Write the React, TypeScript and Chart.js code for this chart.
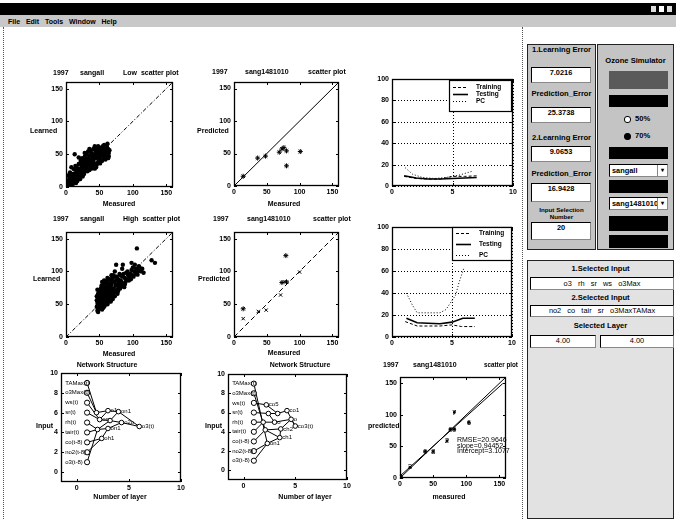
import React, { useEffect, useRef } from 'react';
import { Chart, registerables } from 'chart.js';
Chart.register(...registerables);

const FONT = '"Liberation Sans", Arial, sans-serif';

// ---------- data ----------
const scatterTicks = [0, 50, 100, 150];
const scatterRange: [number, number] = [0, 160];
const identityLine = [0, 160];
const layerTicks = [0, 5, 10];
const errorTicks = [0, 20, 40, 60, 80, 100];
const inputTicks = [0, 2, 4, 6, 8, 10];

const lowScatter: number[][] = [
  [1, 2], [2, 1], [3, 4], [2, 6], [4, 3], [5, 8], [6, 5], [3, 10], [7, 12], [8, 6], [5, 14], [9, 10], [10, 4], [4, 18], [8, 16], [10, 13], [6, 22], [9, 20], [1, 7], [0, 1], [7, 3],
  [11, 8], [12, 14], [13, 18], [14, 11], [15, 22], [16, 16], [17, 25], [18, 12], [19, 20], [12, 27], [14, 32], [16, 30], [18, 28], [20, 24], [19, 35], [13, 50], [19, 45], [11, 20], [15, 6], [17, 9], [20, 15],
  [21, 18], [22, 26], [23, 30], [24, 22], [25, 34], [26, 28], [27, 38], [28, 24], [29, 32], [22, 40], [24, 44], [26, 42], [28, 46], [30, 36], [21, 12], [25, 16], [27, 20], [29, 27], [23, 35], [30, 42], [28, 52],
  [31, 30], [32, 38], [33, 44], [34, 34], [35, 48], [36, 40], [37, 30], [38, 52], [39, 44], [31, 50], [33, 54], [35, 26], [37, 36], [39, 38], [40, 46], [32, 24], [34, 42], [36, 56], [38, 28], [40, 33], [35, 58],
  [41, 40], [42, 50], [43, 36], [44, 55], [45, 44], [46, 60], [47, 48], [48, 38], [49, 56], [50, 42], [41, 58], [43, 62], [45, 30], [47, 54], [49, 46], [42, 44], [44, 48], [46, 52], [48, 62], [50, 50], [46, 34], [43, 28],
  [51, 54], [52, 46], [53, 58], [54, 40], [55, 62], [56, 50], [57, 44], [58, 56], [59, 52], [60, 60], [51, 36], [53, 50], [55, 48], [57, 64], [59, 42], [52, 60], [54, 54], [56, 58], [58, 46], [60, 50], [53, 40],
  [61, 54], [62, 48], [63, 58], [64, 52], [61, 62], [62, 66], [63, 44], [64, 47], [65, 56], [8, 30],
];

const highScatter: number[][] = [
  [46, 46], [47, 52], [48, 44], [49, 58], [50, 48], [46, 62], [47, 40], [48, 66], [49, 54], [50, 70], [48, 50], [46, 56], [49, 42], [50, 60], [47, 72], [48, 38],
  [51, 46], [52, 56], [53, 50], [54, 64], [55, 44], [51, 68], [52, 74], [53, 60], [54, 52], [55, 70], [51, 54], [53, 78], [54, 42], [55, 58], [52, 48], [53, 66], [55, 76], [51, 62], [54, 84],
  [56, 50], [57, 62], [58, 56], [59, 72], [60, 52], [56, 80], [57, 46], [58, 68], [59, 60], [60, 76], [56, 66], [57, 86], [58, 48], [60, 64], [59, 82], [56, 58], [58, 74],
  [61, 56], [62, 70], [63, 60], [64, 78], [65, 54], [61, 84], [62, 50], [63, 74], [64, 66], [65, 82], [61, 64], [63, 88], [64, 58], [65, 70], [62, 90], [61, 76],
  [66, 62], [67, 76], [68, 68], [69, 84], [70, 58], [66, 88], [67, 54], [68, 80], [69, 70], [70, 90], [66, 72], [68, 94], [70, 66], [69, 60], [67, 64],
  [71, 74], [72, 84], [73, 62], [74, 92], [75, 70], [76, 80], [77, 66], [78, 88], [79, 76], [80, 96], [71, 94], [73, 100], [75, 86], [77, 72], [79, 84], [72, 68], [74, 78], [76, 92], [78, 70], [80, 80],
  [81, 74], [82, 86], [83, 78], [84, 92], [85, 82], [86, 96], [87, 76], [88, 90], [89, 84], [90, 98], [82, 94], [85, 110], [88, 80], [91, 88], [93, 94], [94, 86], [92, 100], [95, 92], [84, 104],
  [96, 96], [97, 88], [98, 102], [99, 94], [100, 106], [101, 92], [102, 100], [104, 96], [105, 104], [106, 98], [108, 102], [110, 106], [112, 100], [114, 104], [116, 98], [103, 110], [107, 95], [98, 113], [109, 108],
  [106, 135], [128, 117], [133, 113], [75, 110],
];

const lowTestStars: number[][] = [[14, 15], [36, 43], [48, 46], [69, 52], [73, 57], [76, 59], [80, 54], [80, 31], [101, 53]];
const highTestStars: number[][] = [[14, 43], [73, 83], [80, 84], [79, 124]];
const highTestCrosses: number[][] = [[14, 28], [37, 39], [49, 41], [71, 64], [77, 84], [100, 99]];

// error curves (layers)
const err1TrainX = [1, 2, 3, 4, 5, 6, 7];
const err1Train = [9, 7, 6.5, 6.5, 9, 9, 9.5];
const err1TestX = [1, 2, 3, 4, 5, 6, 7];
const err1Test = [9.5, 7.5, 6.5, 6.5, 7, 7.5, 8];
const err1PcX = [1.1, 1.7, 2.5, 3.5, 4.5, 5.5, 6.7];
const err1Pc = [17, 11, 8, 7, 8, 10, 14];

const err2TrainX = [1.1, 2.1, 3, 4, 5, 5.8, 6.9];
const err2Train = [14, 10, 10, 10, 11, 9.5, 9.5];
const err2TestX = [1.2, 2.1, 3, 4, 5, 5.9, 6.9];
const err2Test = [17, 13, 12.5, 12, 13.5, 17, 17];
const err2PcX = [1.2, 1.7, 2.1, 3, 4, 4.5, 5.3, 5.6, 6];
const err2Pc = [40, 29, 22, 22, 22, 25, 38, 50, 63];

// network structure
const inputNames = ['TAMax(t)', 'o3Max(t)', 'ws(t)', 'sr(t)', 'rh(t)', 'tair(t)', 'co(t-8)', 'no2(t-8)', 'o3(t-8)'];
const inputLevels = [9, 8, 7, 6, 5, 4, 3, 2, 1];
const inputLayer = 1;

const net1NodeX = [1.9, 2.2, 2.0, 2.4, 3.0, 3.2, 3.0, 4.0, 4.3, 6.0];
const net1NodeY = [6.0, 5.3, 4.3, 3.4, 6.2, 5.2, 4.4, 6.1, 5.0, 4.6];
const net1NodeNames = ['', 'on', '', 'oh1', 'o1', '', 'on1', 'on1', 'o2o', 'o3(t)'];
const net1Links = [
  ['i0', 'h0'], ['i1', 'h0'], ['i2', 'h1'], ['i3', 'h1'], ['i4', 'h2'], ['i5', 'h2'], ['i6', 'h3'], ['i7', 'h3'], ['i8', 'h2'],
  ['h0', 'h4'], ['h1', 'h4'], ['h1', 'h5'], ['h2', 'h5'], ['h2', 'h6'], ['h3', 'h6'],
  ['h4', 'h7'], ['h5', 'h7'], ['h5', 'h8'], ['h6', 'h8'], ['h7', 'h9'], ['h8', 'h9'],
];

const net2NodeX = [2.2, 2.4, 1.9, 2.1, 2.3, 3.3, 3.0, 3.6, 3.5, 4.2, 4.6, 5.0];
const net2NodeY = [6.8, 5.9, 5.0, 4.2, 2.8, 5.9, 5.0, 4.3, 3.4, 6.2, 5.3, 4.6];
const net2NodeNames = ['co5', '', '', '', 'on1', '', 'o', 'ch2', 'ch1', 'co1', 'o', 'co3(t)'];
const net2Links = [
  ['i0', 'h4'], ['i1', 'h3'], ['i2', 'h0'], ['i3', 'h1'], ['i4', 'h2'], ['i5', 'h2'], ['i6', 'h3'], ['i7', 'h4'], ['i8', 'h4'],
  ['h0', 'h5'], ['h1', 'h5'], ['h1', 'h6'], ['h2', 'h6'], ['h3', 'h7'], ['h3', 'h8'], ['h4', 'h8'],
  ['h5', 'h9'], ['h6', 'h10'], ['h7', 'h10'], ['h8', 'h7'], ['h9', 'h11'], ['h10', 'h11'],
];

// final test scatter with numbered points
const finalMeasured = [2, 15, 38, 50, 71, 76, 82, 82, 104];
const finalPredicted = [2, 17, 42, 42, 59, 77, 77, 104, 88];
const finalLabels = ['1', '3', '0', '8', '2', '0', '0', '7', '6'];
const fitSlope = 0.94452;
const fitIntercept = 3.1077;
const fitRmse = 20.9646;
const fitRange = [0, 155];

// panel values
const learningError1 = '7.0216';
const predictionError1 = '25.3738';
const learningError2 = '9.0653';
const predictionError2 = '16.9428';
const inputSelectionNumber = '20';
const stationOptions = ['sangall', 'sang1481010'];
const splitOptions = ['50%', '70%'];
const selectedInput1 = 'o3   rh   sr   ws   o3Max';
const selectedInput2 = 'no2   co   tair   sr   o3MaxTAMax';
const selectedLayers = ['4.00', '4.00'];
const menuItems = ['File', 'Edit', 'Tools', 'Window', 'Help'];

// ---------- helpers ----------
const ML = 42, MT = 16, MR = 26, MB = 24;

type TextItem = { t: string; x: number; y: number; align?: CanvasTextAlign; size?: number; bold?: boolean; data?: boolean };
type LegendItem = { label: string; dash: number[]; width: number };
type Spec = {
  box: [number, number, number, number];
  xr: [number, number]; yr: [number, number];
  xt: number[]; yt: number[];
  grid?: boolean;
  datasets: any[];
  texts: TextItem[];
  legend?: { rect: [number, number, number, number]; rows: number[]; items: LegendItem[] };
};

const pts = (arr: number[][]) => arr.map(([x, y]) => ({ x, y }));
const zip = (xs: number[], ys: number[]) => xs.map((x, i) => ({ x, y: ys[i] }));

const dots = (arr: number[][], style: string = 'circle', r = 1.6) => ({
  data: pts(arr), pointStyle: style, pointRadius: r, pointBorderWidth: style === 'circle' ? 0 : 1,
  backgroundColor: '#000', borderColor: '#000', showLine: false,
});
const line = (data: any[], dash: number[], width = 1) => ({
  data, showLine: true, pointRadius: 0, borderColor: '#000', borderWidth: width, borderDash: dash, fill: false, tension: 0,
});

function decor(spec: Spec) {
  const ox = spec.box[0] - ML, oy = spec.box[1] - MT;
  const fnt = (size: number, bold: boolean) => `${bold ? 'bold ' : ''}${size}px ${FONT}`;
  return {
    id: 'decor',
    beforeDatasetsDraw(chart: any) {
      if (!spec.grid) return;
      const { ctx, chartArea: a, scales } = chart;
      ctx.save();
      ctx.strokeStyle = '#000'; ctx.lineWidth = 1; ctx.setLineDash([1, 2]);
      ctx.beginPath();
      spec.xt.forEach(v => { const p = Math.round(scales.x.getPixelForValue(v)) + 0.5; ctx.moveTo(p, a.top); ctx.lineTo(p, a.bottom); });
      spec.yt.forEach(v => { const p = Math.round(scales.y.getPixelForValue(v)) + 0.5; ctx.moveTo(a.left, p); ctx.lineTo(a.right, p); });
      ctx.stroke();
      ctx.restore();
    },
    afterDatasetsDraw(chart: any) {
      const { ctx, chartArea: a, scales } = chart;
      ctx.save();
      ctx.strokeStyle = '#000'; ctx.setLineDash([]); ctx.lineWidth = 1.3;
      ctx.strokeRect(a.left + 0.5, a.top + 0.5, a.right - a.left - 1, a.bottom - a.top - 1);
      ctx.lineWidth = 1;
      ctx.beginPath();
      const TL = 3;
      spec.xt.forEach(v => {
        const p = Math.round(scales.x.getPixelForValue(v)) + 0.5;
        ctx.moveTo(p, a.bottom); ctx.lineTo(p, a.bottom - TL); ctx.moveTo(p, a.top); ctx.lineTo(p, a.top + TL);
      });
      spec.yt.forEach(v => {
        const p = Math.round(scales.y.getPixelForValue(v)) + 0.5;
        ctx.moveTo(a.left, p); ctx.lineTo(a.left + TL, p); ctx.moveTo(a.right, p); ctx.lineTo(a.right - TL, p);
      });
      ctx.stroke();
      if (spec.legend) {
        const [lx0, ly0, lx1, ly1] = spec.legend.rect;
        ctx.fillStyle = '#fff';
        ctx.fillRect(lx0 - ox, ly0 - oy, lx1 - lx0, ly1 - ly0);
        ctx.lineWidth = 1.2;
        ctx.strokeRect(lx0 - ox + 0.5, ly0 - oy + 0.5, lx1 - lx0 - 1, ly1 - ly0 - 1);
        ctx.fillStyle = '#000';
        ctx.font = fnt(6.5, true);
        ctx.textBaseline = 'middle'; ctx.textAlign = 'left';
        spec.legend.items.forEach((it, i) => {
          const yy = spec.legend!.rows[i] - oy + 0.5;
          ctx.beginPath(); ctx.setLineDash(it.dash); ctx.lineWidth = it.width;
          ctx.moveTo(lx0 - ox + 4, yy); ctx.lineTo(lx0 - ox + 19, yy); ctx.stroke();
          ctx.setLineDash([]);
          ctx.fillText(it.label, lx0 - ox + 27, yy);
        });
      }
      ctx.fillStyle = '#000'; ctx.textBaseline = 'middle';
      for (const t of spec.texts) {
        ctx.font = fnt(t.size ?? 7, t.bold ?? true);
        ctx.textAlign = t.align ?? 'left';
        const x = t.data ? scales.x.getPixelForValue(t.x) : t.x - ox;
        const y = t.data ? scales.y.getPixelForValue(t.y) : t.y - oy;
        ctx.fillText(t.t, x, y);
      }
      ctx.restore();
    },
  };
}

function Plot({ spec }: { spec: Spec }) {
  const ref = useRef<HTMLCanvasElement>(null);
  const [x0, y0, x1, y1] = spec.box;
  const W = x1 - x0 + ML + MR, H = y1 - y0 + MT + MB;
  useEffect(() => {
    const tickFont = { family: FONT, size: 7, weight: 'bold' as const };
    const axis = (r: [number, number], ticks: number[], horiz: boolean) => ({
      type: 'linear', min: r[0], max: r[1],
      grid: { display: false, drawTicks: false },
      border: { display: false },
      ticks: { font: tickFont, color: '#000', padding: horiz ? 2 : 3, maxRotation: 0, autoSkip: false },
      afterBuildTicks: (s: any) => { s.ticks = ticks.map(v => ({ value: v })); },
      afterFit: (s: any) => {
        if (horiz) { s.height = MB; s.paddingLeft = 0; s.paddingRight = 0; }
        else { s.width = ML; s.paddingTop = 0; s.paddingBottom = 0; }
      },
    });
    const chart = new Chart(ref.current!, {
      type: 'scatter',
      data: { datasets: spec.datasets },
      options: {
        responsive: false, animation: false, devicePixelRatio: 1, events: [],
        layout: { padding: { left: 0, top: MT, right: MR, bottom: 0 } },
        plugins: { legend: { display: false }, tooltip: { enabled: false }, title: { display: false } },
        scales: { x: axis(spec.xr, spec.xt, true) as any, y: axis(spec.yr, spec.yt, false) as any },
      },
      plugins: [decor(spec)],
    });
    return () => chart.destroy();
  }, []);
  return <canvas ref={ref} width={W} height={H}
    style={{ position: 'absolute', left: x0 - ML, top: y0 - MT, width: W, height: H }} />;
}

function networkDatasets(nodeX: number[], nodeY: number[], links: string[][]) {
  const pos = (k: string) => k[0] === 'i'
    ? { x: inputLayer, y: inputLevels[+k.slice(1)] }
    : { x: nodeX[+k.slice(1)], y: nodeY[+k.slice(1)] };
  const linkData: any[] = [];
  links.forEach(([a, b]) => { linkData.push(pos(a), pos(b), { x: NaN, y: NaN }); });
  return [
    { data: inputLevels.map(y => ({ x: inputLayer, y })), pointStyle: 'circle', pointRadius: 2.6, pointBorderWidth: 1, backgroundColor: '#fff', borderColor: '#000', showLine: false },
    { data: zip(nodeX, nodeY), pointStyle: 'circle', pointRadius: 2.3, pointBorderWidth: 1, backgroundColor: '#fff', borderColor: '#000', showLine: false },
    { ...line(linkData, [], 1), spanGaps: false },
  ];
}
function networkTexts(nodeX: number[], nodeY: number[], names: string[]): TextItem[] {
  return [
    ...inputNames.map((n, i) => ({ t: n, x: -1.1, y: inputLevels[i], data: true, size: 6, bold: false })),
    ...names.map((n, i) => ({ t: n, x: nodeX[i] + 0.25, y: nodeY[i], data: true, size: 6, bold: false })).filter(t => t.t),
  ];
}

const identity = zip(identityLine, identityLine);

const specs: Spec[] = [
  {
    box: [66, 82, 173, 187], xr: scatterRange, yr: scatterRange, xt: scatterTicks, yt: scatterTicks,
    datasets: [dots(lowScatter, 'circle', 2.2), line(identity, [4, 2, 1, 2])],
    texts: [
      { t: '1997', x: 53, y: 73 }, { t: 'sangall', x: 80, y: 73 }, { t: 'Low  scatter plot', x: 123, y: 73 },
      { t: 'Learned', x: 30, y: 131 }, { t: 'Measured', x: 119, y: 204, align: 'center' },
    ],
  },
  {
    box: [234, 82, 339, 186], xr: scatterRange, yr: scatterRange, xt: scatterTicks, yt: scatterTicks,
    datasets: [dots(lowTestStars, 'star', 2.5), line(identity, [])],
    texts: [
      { t: '1997', x: 212, y: 72 }, { t: 'sang1481010', x: 245, y: 72 }, { t: 'scatter plot', x: 308, y: 72 },
      { t: 'Predicted', x: 197, y: 131 }, { t: 'Measured', x: 284, y: 204, align: 'center' },
    ],
  },
  {
    box: [392, 79, 513, 186], xr: [0, 10], yr: [0, 100], xt: layerTicks, yt: errorTicks, grid: true,
    datasets: [
      line(zip(err1TestX, err1Test), [], 1.6),
      line(zip(err1TrainX, err1Train), [3, 2], 1),
      line(zip(err1PcX, err1Pc), [1, 2], 1),
    ],
    texts: [],
    legend: {
      rect: [449, 80, 512, 112], rows: [87, 94, 101],
      items: [{ label: 'Training', dash: [3, 2], width: 1 }, { label: 'Testing', dash: [], width: 1.6 }, { label: 'PC', dash: [1, 2], width: 1 }],
    },
  },
  {
    box: [66, 232, 173, 337], xr: scatterRange, yr: scatterRange, xt: scatterTicks, yt: scatterTicks,
    datasets: [dots(highScatter, 'circle', 2.2), line(identity, [4, 2, 1, 2])],
    texts: [
      { t: '1997', x: 53, y: 219 }, { t: 'sangall', x: 80, y: 219 }, { t: 'High  scatter plot', x: 123, y: 219 },
      { t: 'Learned', x: 33, y: 279 }, { t: 'Measured', x: 119, y: 354, align: 'center' },
    ],
  },
  {
    box: [234, 232, 339, 337], xr: scatterRange, yr: scatterRange, xt: scatterTicks, yt: scatterTicks,
    datasets: [dots(highTestStars, 'star', 2.5), dots(highTestCrosses, 'crossRot', 2.3), line(identity, [5, 3])],
    texts: [
      { t: '1997', x: 213, y: 219 }, { t: 'sang1481010', x: 247, y: 219 }, { t: 'scatter plot', x: 313, y: 219 },
      { t: 'Predicted', x: 198, y: 279 }, { t: 'Measured', x: 284, y: 353, align: 'center' },
    ],
  },
  {
    box: [392, 227, 512, 337], xr: [0, 10], yr: [0, 100], xt: layerTicks, yt: errorTicks, grid: true,
    datasets: [
      line(zip(err2TestX, err2Test), [], 1.6),
      line(zip(err2TrainX, err2Train), [3, 2], 1),
      line(zip(err2PcX, err2Pc), [1, 2], 1),
    ],
    texts: [],
    legend: {
      rect: [452, 227, 512, 261], rows: [233, 244, 255],
      items: [{ label: 'Training', dash: [3, 2], width: 1 }, { label: 'Testing', dash: [], width: 1.6 }, { label: 'PC', dash: [1, 2], width: 1 }],
    },
  },
  {
    box: [61, 373, 181, 482], xr: [-1.5, 10], yr: [-1, 10], xt: layerTicks, yt: inputTicks,
    datasets: networkDatasets(net1NodeX, net1NodeY, net1Links),
    texts: [
      { t: 'Network Structure', x: 107, y: 365, align: 'center' },
      { t: 'Input', x: 36, y: 426 }, { t: 'Number of layer', x: 120, y: 497, align: 'center' },
      ...networkTexts(net1NodeX, net1NodeY, net1NodeNames),
    ],
  },
  {
    box: [228, 374, 347, 480], xr: [-1.5, 10], yr: [-1, 10], xt: layerTicks, yt: inputTicks,
    datasets: networkDatasets(net2NodeX, net2NodeY, net2Links),
    texts: [
      { t: 'Network Structure', x: 300, y: 365, align: 'center' },
      { t: 'Input', x: 205, y: 426 }, { t: 'Number of layer', x: 305, y: 497, align: 'center' },
      ...networkTexts(net2NodeX, net2NodeY, net2NodeNames),
    ],
  },
  {
    box: [400, 377, 506, 478], xr: scatterRange, yr: scatterRange, xt: scatterTicks, yt: scatterTicks,
    datasets: [
      { ...dots(finalMeasured.map((m, i) => [m, finalPredicted[i]]), 'rect', 1.2) },
      line(identity, [], 1),
      line(fitRange.map(x => ({ x, y: fitSlope * x + fitIntercept })), [], 1),
    ],
    texts: [
      { t: '1997', x: 383, y: 365 }, { t: 'sang1481010', x: 413, y: 365 }, { t: 'scatter plot', x: 484, y: 365, size: 6.3 },
      { t: 'predicted', x: 368, y: 426 }, { t: 'measured', x: 449, y: 497, align: 'center' },
      ...finalLabels.map((l, i) => ({ t: l, x: finalMeasured[i], y: finalPredicted[i], data: true, align: 'center' as CanvasTextAlign, size: 8, bold: false })),
      { t: `RMSE=${fitRmse}`, x: 86, y: 60, data: true, size: 7, bold: false },
      { t: `slope=${fitSlope}`, x: 86, y: 51, data: true, size: 7, bold: false },
      { t: `Intercept=${fitIntercept}`, x: 86, y: 42, data: true, size: 7, bold: false },
    ],
  },
];

// ---------- UI panel ----------
const abs = (l: number, t: number, w: number, h: number, extra: React.CSSProperties = {}): React.CSSProperties =>
  ({ position: 'absolute', left: l, top: t, width: w, height: h, boxSizing: 'border-box', ...extra });
const label: React.CSSProperties = { fontSize: 7.6, fontWeight: 'bold', textAlign: 'center', lineHeight: '9px', color: '#000', whiteSpace: 'nowrap' };
const edit: React.CSSProperties = {
  background: '#fff', borderTop: '1px solid #000', borderLeft: '1px solid #000', borderRight: '1px solid #888', borderBottom: '1px solid #888',
  fontSize: 7.4, fontWeight: 'bold', textAlign: 'center', lineHeight: '10px', color: '#000', whiteSpace: 'pre', overflow: 'hidden',
};

function Panels() {
  return (
    <>
      {/* left error panel */}
      <div style={abs(527, 44, 69, 206, { background: '#c4c4c4', border: '1px solid #222' })} />
      <div style={abs(527, 45, 69, 9, label)}>1.Learning Error</div>
      <div style={abs(531, 67, 60, 16, edit)}>{learningError1}</div>
      <div style={abs(527, 89, 69, 9, label)}>Prediction_Error</div>
      <div style={abs(531, 107, 60, 16, edit)}>{predictionError1}</div>
      <div style={abs(527, 133, 69, 9, label)}>2.Learning Error</div>
      <div style={abs(531, 146, 60, 16, edit)}>{learningError2}</div>
      <div style={abs(527, 169, 69, 9, label)}>Prediction_Error</div>
      <div style={abs(531, 183, 60, 19, edit)}>{predictionError2}</div>
      <div style={abs(527, 206, 69, 16, { ...label, fontSize: 6.2, lineHeight: '7px' })}>Input Selection<br />Number</div>
      <div style={abs(531, 222, 60, 18, edit)}>{inputSelectionNumber}</div>

      {/* ozone simulator panel */}
      <div style={abs(597, 44, 77, 206, { background: '#c4c4c4', border: '1px solid #222' })} />
      <div style={abs(597, 56, 77, 9, label)}>Ozone Simulator</div>
      <div style={abs(609, 71, 59, 18, { background: '#5a5a5a' })} />
      <div style={abs(609, 95, 59, 12, { background: '#000' })} />
      {splitOptions.map((o, i) => (
        <div key={o} style={abs(624, 114 + i * 17, 40, 9, { ...label, textAlign: 'left' })}>
          <span style={{ display: 'inline-block', width: 5, height: 5, borderRadius: 3, border: '1px solid #000', background: i === 1 ? '#000' : '#fff', marginRight: 4, verticalAlign: 'middle' }} />
          {o}
        </div>
      ))}
      <div style={abs(609, 147, 59, 12, { background: '#000' })} />
      {stationOptions.map((o, i) => (
        <div key={o} style={abs(609, 164 + i * 33, 59, 13, { ...edit, textAlign: 'left', paddingLeft: 2, lineHeight: '11px' })}>
          {o}
          <span style={{ position: 'absolute', right: 0, top: 0, width: 9, height: 11, background: '#fff', borderLeft: '1px solid #888', fontSize: 6, textAlign: 'center' }}>▾</span>
        </div>
      ))}
      <div style={abs(609, 180, 59, 13, { background: '#000' })} />
      <div style={abs(609, 216, 59, 15, { background: '#000' })} />
      <div style={abs(609, 235, 59, 13, { background: '#000' })} />

      {/* selection panel */}
      <div style={abs(527, 260, 147, 259, { background: '#e2e2e2', border: '1px solid #222' })} />
      <div style={abs(527, 264, 147, 9, label)}>1.Selected Input</div>
      <div style={abs(530, 277, 144, 13, { ...edit, fontWeight: 'normal', lineHeight: '11px' })}>{selectedInput1}</div>
      <div style={abs(527, 293, 147, 9, label)}>2.Selected Input</div>
      <div style={abs(530, 305, 144, 12, { ...edit, fontWeight: 'normal', lineHeight: '10px' })}>{selectedInput2}</div>
      <div style={abs(527, 321, 147, 9, label)}>Selected Layer</div>
      {selectedLayers.map((v, i) => (
        <div key={i} style={abs(530 + i * 70, 335, i === 0 ? 66 : 74, 13, { ...edit, fontWeight: 'normal', lineHeight: '10px' })}>{v}</div>
      ))}
    </>
  );
}

export default function App() {
  useEffect(() => { document.body.style.margin = '0'; }, []);
  return (
    <div style={{ position: 'fixed', left: 0, top: 0, width: 676, height: 519, background: '#fff', overflow: 'hidden', fontFamily: FONT }}>
      {/* title bar */}
      <div style={abs(0, 3, 676, 12, { background: '#000' })} />
      {[0, 1, 2].map(i => (
        <div key={i} style={abs(650 + i * 8, 5, 7, 8, { background: i === 1 ? '#fff' : '#ddd', border: '1px solid #000' })} />
      ))}
      {/* menu bar */}
      <div style={abs(0, 15, 676, 12, { background: '#c8c8c8' })} />
      <div style={abs(8, 17, 200, 9, { fontSize: 7, fontWeight: 'bold', lineHeight: '9px', whiteSpace: 'pre' })}>
        {menuItems.join('   ')}
      </div>
      {/* figure edges */}
      <div style={abs(3, 27, 1, 492, { borderLeft: '1px dotted #555' })} />
      <div style={abs(522, 27, 1, 492, { borderLeft: '1px dotted #555' })} />
      {specs.map((s, i) => <Plot key={i} spec={s} />)}
      <Panels />
    </div>
  );
}
